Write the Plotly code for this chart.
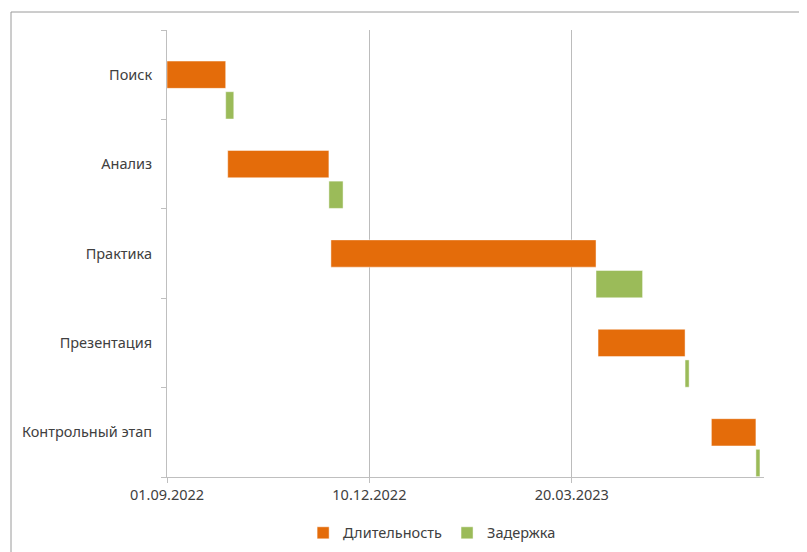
import plotly.graph_objects as go
import pandas as pd

tasks = ["Поиск", "Анализ", "Практика", "Презентация", "Контрольный этап"]
start_dates = ["2022-09-01", "2022-10-01", "2022-11-21", "2023-04-02", "2023-05-28"]
duration_days = [29, 50, 131, 43, 22]
delay_days = [4, 7, 23, 2, 2]
tick_dates = ["2022-09-01", "2022-12-10", "2023-03-20"]
tick_labels = ["01.09.2022", "10.12.2022", "20.03.2023"]
axis_min = "2022-09-01"
axis_max = "2023-06-23"

DAY_MS = 24 * 3600 * 1000
starts = pd.to_datetime(start_dates)
delay_base = [(s + pd.Timedelta(days=d)).strftime("%Y-%m-%d") for s, d in zip(starts, duration_days)]

ORANGE = "#E46C0A"
GREEN = "#9BBB59"
TEXT = "#404040"
FONT = "Noto Sans"
FS = 14.5

# page body has an 8px margin; plot area targeted at x 167..764, y 30..477 on screen
fig = go.Figure()
fig.add_trace(go.Bar(
    name="Длительность", y=tasks, x=[d * DAY_MS for d in duration_days], base=start_dates,
    orientation="h", marker=dict(color=ORANGE, line=dict(color="rgba(255,255,255,0.45)", width=1)),
    width=0.305, offset=-0.1527,
))
fig.add_trace(go.Bar(
    name="Задержка", y=tasks, x=[d * DAY_MS for d in delay_days], base=delay_base,
    orientation="h", marker=dict(color=GREEN, line=dict(color="rgba(255,255,255,0.45)", width=1)),
    width=0.305, offset=-0.4955,
))

fig.update_layout(
    width=807, height=552,
    margin=dict(l=159, r=51, t=22, b=83, autoexpand=False),
    paper_bgcolor="white", plot_bgcolor="white",
    barmode="overlay",
    font=dict(family=FONT, size=FS, color=TEXT),
    showlegend=True,
    legend=dict(orientation="h", x=0.228, xanchor="left", y=-0.125, yanchor="middle",
                font=dict(family=FONT, size=FS, color=TEXT), itemwidth=30, traceorder="normal"),
    xaxis=dict(
        type="date", range=[axis_min, axis_max],
        tickvals=tick_dates, ticktext=tick_labels,
        showgrid=True, gridcolor="#BCBCBC", gridwidth=1,
        showline=True, linecolor="#BFBFBF", linewidth=1,
        ticks="outside", ticklen=5, tickcolor="#BFBFBF",
        zeroline=False, tickfont=dict(family=FONT, size=FS, color=TEXT),
    ),
    yaxis=dict(
        type="category", categoryorder="array", categoryarray=list(reversed(tasks)),
        range=[-0.5, 4.5],
        showgrid=False, showline=True, linecolor="#BFBFBF", linewidth=1,
        ticks="outside", ticklen=5, tickcolor="#BFBFBF", tickson="boundaries",
        ticklabelstandoff=11,
        tickfont=dict(family=FONT, size=FS, color=TEXT),
    ),
    shapes=[dict(type="rect", xref="paper", yref="paper",
                 x0=(11 - 167) / 597, x1=1.3, y0=-0.4, y1=1 + 18 / 447,
                 line=dict(color="#9A9A9A", width=1), fillcolor="rgba(0,0,0,0)", layer="below")],
)

fig.write_html("out.html")
